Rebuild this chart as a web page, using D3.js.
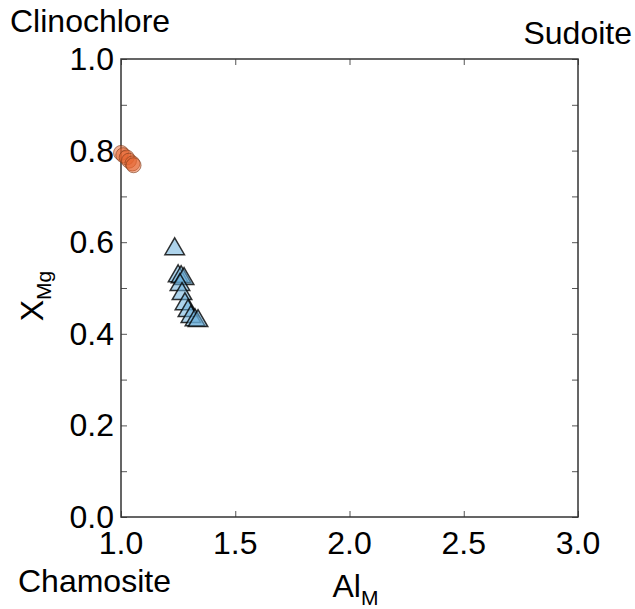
<!DOCTYPE html>
<html>
<head>
<meta charset="utf-8">
<script src="https://cdn.jsdelivr.net/npm/d3@7"></script>
<style>
  body { margin: 0; background: #fff; }
  text { font-family: "Liberation Sans", Arial, sans-serif; fill: #000; }
</style>
</head>
<body>
<div id="chart"></div>
<script>
// circles (Mg-rich chlorite)
const circleAl = [1.00, 1.01, 1.025, 1.035, 1.05, 1.055];
const circleXMg = [0.795, 0.79, 0.785, 0.778, 0.772, 0.768];
// triangles (Fe-rich chlorite)
const triAl = [1.235, 1.25, 1.263, 1.276, 1.258, 1.267, 1.28, 1.293, 1.306, 1.324, 1.337];
const triXMg = [0.585, 0.526, 0.524, 0.52, 0.507, 0.487, 0.465, 0.45, 0.437, 0.43, 0.428];

const xTicks = [1.0, 1.5, 2.0, 2.5, 3.0];
const yTicks = [0.0, 0.1, 0.2, 0.3, 0.4, 0.5, 0.6, 0.7, 0.8, 0.9, 1.0];
const yLabels = [0.0, 0.2, 0.4, 0.6, 0.8, 1.0];

const w = 635;
const h = 609;
const mLeft = 121, mRight = 578, mTop = 59, mBottom = 517;

const svg = d3.select('#chart').append('svg').attr('width', w).attr('height', h);

const scaleX = d3.scaleLinear().domain([1, 3]).range([mLeft, mRight]);
const scaleY = d3.scaleLinear().domain([0, 1]).range([mBottom, mTop]);

// ticks pointing inward on all sides
const tickLen = 6;
const axisBottom = d3.axisBottom(scaleX).tickValues(xTicks).tickSize(-tickLen).tickFormat('');
const axisTop = d3.axisTop(scaleX).tickValues(xTicks).tickSize(-tickLen).tickFormat('');
const axisLeft = d3.axisLeft(scaleY).tickValues(yTicks).tickSize(-tickLen).tickFormat('');
const axisRight = d3.axisRight(scaleY).tickValues(yTicks).tickSize(-tickLen).tickFormat('');

svg.append('g').attr('transform', `translate(0, ${mBottom})`).call(axisBottom);
svg.append('g').attr('transform', `translate(0, ${mTop})`).call(axisTop);
svg.append('g').attr('transform', `translate(${mLeft}, 0)`).call(axisLeft);
svg.append('g').attr('transform', `translate(${mRight}, 0)`).call(axisRight);
svg.selectAll('.domain').remove();
svg.selectAll('.tick line').attr('stroke', '#555').attr('stroke-width', 1);

// frame
svg.append('rect')
  .attr('x', mLeft).attr('y', mTop)
  .attr('width', mRight - mLeft).attr('height', mBottom - mTop)
  .attr('fill', 'none').attr('stroke', '#333').attr('stroke-width', 1.5);

// tick labels
svg.append('g').selectAll('text').data(xTicks).join('text')
  .attr('x', (d) => scaleX(d)).attr('y', mBottom + 37)
  .attr('text-anchor', 'middle').attr('font-size', 32)
  .text((d) => d.toFixed(1));

svg.append('g').selectAll('text').data(yLabels).join('text')
  .attr('x', mLeft - 7).attr('y', (d) => scaleY(d) + 11)
  .attr('text-anchor', 'end').attr('font-size', 32)
  .text((d) => d.toFixed(1));

// data points
svg.append('g').selectAll('circle').data(circleAl).join('circle')
  .attr('cx', (d) => scaleX(d))
  .attr('cy', (d, i) => scaleY(circleXMg[i]))
  .attr('r', 7.5)
  .attr('fill', '#e5622b').attr('fill-opacity', 0.5)
  .attr('stroke', '#7a3a1a').attr('stroke-opacity', 0.6).attr('stroke-width', 1);

const tri = d3.symbol().type(d3.symbolTriangle).size(165);
svg.append('g').selectAll('path').data(triAl).join('path')
  .attr('d', tri)
  .attr('transform', (d, i) => `translate(${scaleX(d)}, ${scaleY(triXMg[i])})`)
  .attr('fill', '#6aaedb').attr('fill-opacity', 0.55)
  .attr('stroke', '#000').attr('stroke-opacity', 0.8).attr('stroke-width', 1.5);

// corner labels
svg.append('text').attr('x', 10).attr('y', 32).attr('font-size', 32).text('Clinochlore');
svg.append('text').attr('x', 632).attr('y', 44).attr('text-anchor', 'end').attr('font-size', 32).text('Sudoite');
svg.append('text').attr('x', 18).attr('y', 592).attr('font-size', 32).text('Chamosite');

// axis titles
const xt = svg.append('text').attr('x', (mLeft + mRight) / 2 + 6).attr('y', 597)
  .attr('text-anchor', 'middle').attr('font-size', 32);
xt.append('tspan').text('Al');
xt.append('tspan').attr('font-size', 21).attr('dy', 8).text('M');

const yt = svg.append('text')
  .attr('transform', `translate(43, ${(mTop + mBottom) / 2 + 8}) rotate(-90)`)
  .attr('text-anchor', 'middle').attr('font-size', 32);
yt.append('tspan').text('X');
yt.append('tspan').attr('font-size', 21).attr('dy', 8).text('Mg');
</script>
</body>
</html>
